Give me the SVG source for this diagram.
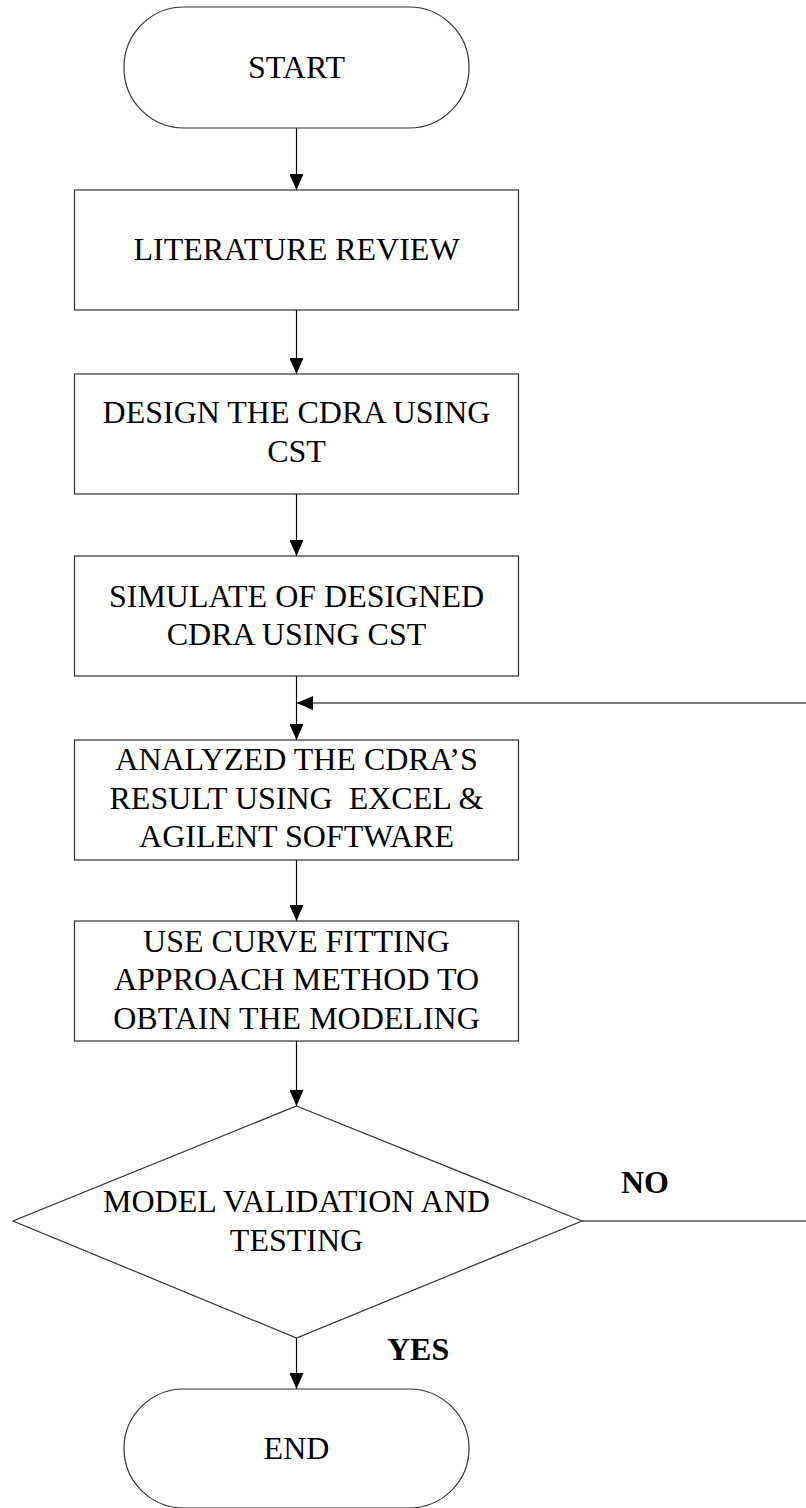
<svg xmlns="http://www.w3.org/2000/svg" width="806" height="1508" viewBox="0 0 806 1508">
<style>
  .shape { fill: #fff; stroke: #333; stroke-width: 1.2; }
  .conn { fill: none; stroke: #000; stroke-width: 1.2; }
  .t { font-family: "Liberation Serif", "Times New Roman", serif; font-size: 32px; fill: #000; text-anchor: middle; }
  .b { font-weight: bold; text-anchor: start; }
</style>
<defs>
  <marker id="arrow" markerUnits="userSpaceOnUse" markerWidth="16" markerHeight="14" refX="16" refY="7" orient="auto">
    <path d="M0,0 L16,7 L0,14 Z" fill="#000"/>
  </marker>
</defs>
<rect width="806" height="1508" fill="#fff"/>

<g id="connectors">
  <line class="conn" x1="296.5" y1="128" x2="296.5" y2="190" marker-end="url(#arrow)"/>
  <line class="conn" x1="296.5" y1="310" x2="296.5" y2="374" marker-end="url(#arrow)"/>
  <line class="conn" x1="296.5" y1="494" x2="296.5" y2="556" marker-end="url(#arrow)"/>
  <line class="conn" x1="296.5" y1="676" x2="296.5" y2="740" marker-end="url(#arrow)"/>
  <line class="conn" x1="296.5" y1="860" x2="296.5" y2="921" marker-end="url(#arrow)"/>
  <line class="conn" x1="296.5" y1="1041" x2="296.5" y2="1106" marker-end="url(#arrow)"/>
  <line class="conn" x1="296.5" y1="1338" x2="296.5" y2="1389" marker-end="url(#arrow)"/>
  <path class="conn" d="M582,1221 H830 V703 H297" marker-end="url(#arrow)"/>
</g>

<g id="start">
  <rect class="shape" x="124" y="7" width="345" height="121" rx="60" ry="60"/>
  <text class="t" x="296.5" y="78">START</text>
</g>

<g id="literature-review">
  <rect class="shape" x="74.5" y="190" width="444" height="120"/>
  <text class="t" x="296.5" y="260">LITERATURE REVIEW</text>
</g>

<g id="design">
  <rect class="shape" x="74.5" y="374" width="444" height="120"/>
  <text class="t" x="296.5" y="423">DESIGN THE CDRA USING</text>
  <text class="t" x="296.5" y="462">CST</text>
</g>

<g id="simulate">
  <rect class="shape" x="74.5" y="556" width="444" height="120"/>
  <text class="t" x="296.5" y="607">SIMULATE OF DESIGNED</text>
  <text class="t" x="296.5" y="645">CDRA USING CST</text>
</g>

<g id="analyze">
  <rect class="shape" x="74.5" y="740" width="444" height="120"/>
  <text class="t" x="296.5" y="770">ANALYZED THE CDRA’S</text>
  <text class="t" x="296.5" y="808.5" style="white-space:pre">RESULT USING  EXCEL &amp;</text>
  <text class="t" x="296.5" y="847">AGILENT SOFTWARE</text>
</g>

<g id="curve-fitting">
  <rect class="shape" x="74.5" y="921" width="444" height="120"/>
  <text class="t" x="296.5" y="952">USE CURVE FITTING</text>
  <text class="t" x="296.5" y="990">APPROACH METHOD TO</text>
  <text class="t" x="296.5" y="1028.5">OBTAIN THE MODELING</text>
</g>

<g id="decision">
  <polygon class="shape" points="296.5,1106 582,1221 296.5,1338 13,1221"/>
  <text class="t" x="296.5" y="1212">MODEL VALIDATION AND</text>
  <text class="t" x="296.5" y="1251">TESTING</text>
</g>

<g id="labels">
  <text class="t b" x="621" y="1193">NO</text>
  <text class="t b" x="387" y="1360">YES</text>
</g>

<g id="end">
  <rect class="shape" x="124" y="1389" width="345" height="119" rx="60" ry="60"/>
  <text class="t" x="296.5" y="1459">END</text>
</g>
</svg>
